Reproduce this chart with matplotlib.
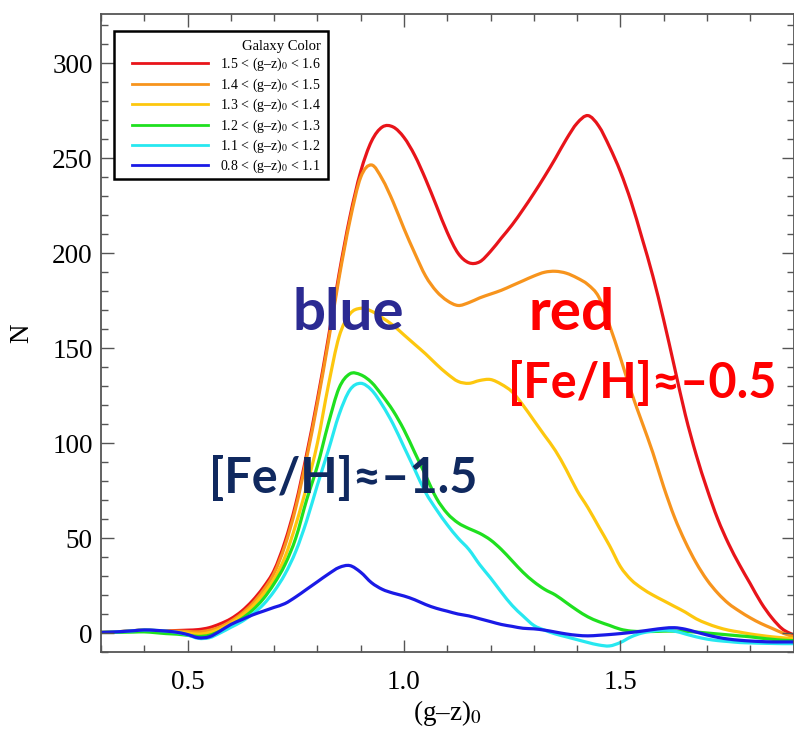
import numpy as np
import matplotlib
matplotlib.use("Agg")
import matplotlib.pyplot as plt
from matplotlib.ticker import MultipleLocator
from matplotlib.path import Path
from matplotlib.patches import PathPatch, Rectangle
from matplotlib.lines import Line2D

# ---------------- data ----------------
gz = np.linspace(0.3, 1.9, 65)  # (g-z)_0 sample positions, step 0.025

n_red = [0.3, 0.5, 0.8, 1.2, 1.5, 1.3, 1.1, 1.3, 1.5, 1.8,
         2.8, 4.8, 7.5, 11.5, 17, 24, 33, 48, 68, 94,
         123, 155, 189, 219, 243, 259, 266.5, 266.5, 261, 251.5,
         239, 225, 211, 200, 195, 195.5, 201, 208, 215, 223,
         231.5, 240.5, 250, 260, 268.5, 272.5, 267, 256, 243, 227,
         208, 188, 165, 140, 115, 94, 76, 60, 47, 36,
         26, 16, 8, 2, -1]
n_orange = [0.3, 0.5, 0.8, 1.2, 1.5, 1.3, 1.0, 1.0, 0.8, 0.6,
            1.4, 3.2, 6.2, 10.2, 15.5, 22.5, 31.5, 46, 66, 92,
            121, 153, 187, 217, 240, 246.5, 239, 227, 213, 200,
            188, 180, 175, 172.5, 174, 176.5, 178.5, 180.5, 183, 185.5,
            188, 190, 190.5, 189.5, 187, 183.5, 177, 162, 145, 127,
            111, 95, 77, 61, 48, 37, 28, 21, 15.5, 11.5,
            8, 5, 2.5, 0, -2]
n_yellow = [0.3, 0.5, 0.8, 1.2, 1.5, 1.2, 0.8, 0.5, 0, -0.6,
            0.2, 2.2, 5.2, 9.2, 14, 20.5, 28.5, 40, 57, 77,
            100, 130, 156, 168, 171, 169.5, 166, 162, 157, 152,
            147, 141.5, 136.5, 132.5, 131.5, 133, 133.5, 131, 127, 120,
            112, 104, 96, 86, 75, 66, 56, 46, 35, 28,
            23.5, 20, 17, 14, 11, 7.5, 5, 3, 1.5, 0.5,
            -0.5, -1.3, -2, -2.5, -3]
n_green = [0.3, 0.3, 0.4, 0.5, 0.6, 0.2, -0.3, -0.6, -1.2, -1.8,
           -1.2, 1, 4, 7.5, 12, 18, 26, 36, 50, 70,
           88, 110, 129, 136.5, 136, 132, 125, 117, 107, 95,
           83, 71, 63, 58, 55, 52.5, 49, 44, 38, 32,
           27, 23, 20, 16, 12, 8.5, 6, 4, 2, 1,
           0.8, 0.8, 1, 1, 0.8, 0.5, 0, -0.5, -1, -1.5,
           -2, -2.7, -3.3, -3.8, -4]
n_cyan = [0.3, 0.5, 0.8, 1.2, 1.6, 1.4, 1.0, 0.3, -1, -2.8,
          -2.5, 0, 3, 6, 10, 15, 22, 31, 43, 59,
          78, 96, 115, 128, 131.5, 128, 120, 110, 98, 86,
          74, 65, 57, 50, 44, 36, 29, 21.5, 14.5, 9,
          4, 1.5, -0.5, -2, -3.5, -5, -6.3, -6.8, -5, -2,
          0, 1, 1.5, 1, -0.5, -2, -3.2, -4, -4.5, -5,
          -5.2, -5.4, -5.5, -5.6, -5.6]
n_blue = [0.3, 0.5, 0.8, 1.2, 1.6, 1.4, 1.0, 0.4, -0.8, -2.5,
          -2, 1, 4.5, 7, 9.5, 11.5, 13.5, 15.5, 19, 23,
          27, 31, 34.5, 35.5, 32, 26.5, 23, 21, 19.5, 17.5,
          15, 13, 11.5, 10, 9, 7.5, 6, 4.5, 3.5, 2.5,
          2.2, 1.5, 0.5, -0.5, -1.2, -1.5, -1.2, -0.8, -0.3, 0.3,
          1, 1.8, 2.5, 2.8, 2, 0.5, -1, -2.3, -3.2, -3.8,
          -4.2, -4.5, -4.7, -4.7, -4.7]

series = [n_red, n_orange, n_yellow, n_green, n_cyan, n_blue]
labels = ["1.5 < (g–z)$_0$ < 1.6",
          "1.4 < (g–z)$_0$ < 1.5",
          "1.3 < (g–z)$_0$ < 1.4",
          "1.2 < (g–z)$_0$ < 1.3",
          "1.1 < (g–z)$_0$ < 1.2",
          "0.8 < (g–z)$_0$ < 1.1"]
colors = ["#e8141a", "#f7941d", "#fdc70e", "#1fe01f", "#27e8f0", "#1a1ae6"]


def smooth_path(x, y):
    """Bezier (Catmull-Rom) path passing through every data point."""
    p = np.column_stack([x, np.asarray(y, float)])
    pe = np.vstack([p[0], p, p[-1]])
    verts = [p[0]]
    codes = [Path.MOVETO]
    for i in range(len(p) - 1):
        p0, p1, p2, p3 = pe[i], pe[i + 1], pe[i + 2], pe[i + 3]
        verts += [p1 + (p2 - p0) / 6.0, p2 - (p3 - p1) / 6.0, p2]
        codes += [Path.CURVE4] * 3
    return Path(np.array(verts), codes)


# ---------------- figure ----------------
plt.rcParams["font.family"] = ["Liberation Serif", "DejaVu Serif"]
plt.rcParams["mathtext.fontset"] = "stix"

W, H = 794, 730
fig = plt.figure(figsize=(W / 100, H / 100), dpi=100)
ax = fig.add_axes([101/W, 78/H, 692.5/W, 638/H])

for y, c in zip(series, colors):
    ax.add_patch(PathPatch(smooth_path(gz, y), fill=False, edgecolor=c,
                           lw=2.3, capstyle="round", joinstyle="round"))

ax.set_xlim(0.3, 1.9)
ax.set_ylim(-10, 326)
ax.xaxis.set_major_locator(MultipleLocator(0.5))
ax.xaxis.set_minor_locator(MultipleLocator(0.1))
ax.yaxis.set_major_locator(MultipleLocator(50))
ax.yaxis.set_minor_locator(MultipleLocator(10))
ax.set_xticks([0.5, 1.0, 1.5])
ax.set_xticklabels(["0.5", "1.0", "1.5"])

ax.tick_params(which="both", direction="in", top=True, right=True,
               color="#555555", width=1.0)
ax.tick_params(which="major", length=9)
ax.tick_params(which="minor", length=5)
ax.tick_params(axis="x", which="major", labelsize=19.5, pad=13)
ax.tick_params(axis="y", which="major", labelsize=19.5, pad=6)
for s in ax.spines.values():
    s.set_color("#555555")
    s.set_linewidth(1.3)

ax.set_xlabel("(g–z)$_0$", fontsize=19.5)
ax.xaxis.set_label_coords(0.5, -0.072)
ax.set_ylabel("N", fontsize=19.5)
ax.yaxis.set_label_coords(-0.096, 0.5)

# legend frame (drawn separately so the padding matches the reference)
ax.add_patch(Rectangle((114/W, 1 - 179/H), 214/W, 148/H,
                       transform=fig.transFigure, facecolor="white",
                       edgecolor="black", lw=1.8, zorder=4.9, clip_on=False))
handles = [Line2D([], [], color=c, lw=2.0) for c in colors]
leg = ax.legend(handles, labels, loc="upper left",
                bbox_to_anchor=(132/W, 1 - 40/H),
                bbox_transform=fig.transFigure,
                borderaxespad=0, fontsize=10, title="Galaxy Color",
                title_fontsize=10.5, handlelength=5.5, handletextpad=0.85,
                labelspacing=0.22, borderpad=0, frameon=False,
                alignment="right")

# ---------------- annotations ----------------
sans = ["Lato", "DejaVu Sans"]
fig.text(348/W, 1 - 330/H, "blue", family=sans, weight="bold",
         fontsize=42, color="#2b2a92", ha="center", va="baseline")
fig.text(572/W, 1 - 330/H, "red", family=sans, weight="bold",
         fontsize=42, color="#ff0000", ha="center", va="baseline")
fig.text(642/W, 1 - 398/H, "[Fe/H]≈–0.5", family=sans, weight="bold",
         fontsize=35, color="#ff0000", ha="center", va="baseline")
fig.text(343/W, 1 - 493/H, "[Fe/H]≈–1.5", family=sans, weight="bold",
         fontsize=35, color="#10295f", ha="center", va="baseline")

fig.savefig("out.png", dpi=100)
